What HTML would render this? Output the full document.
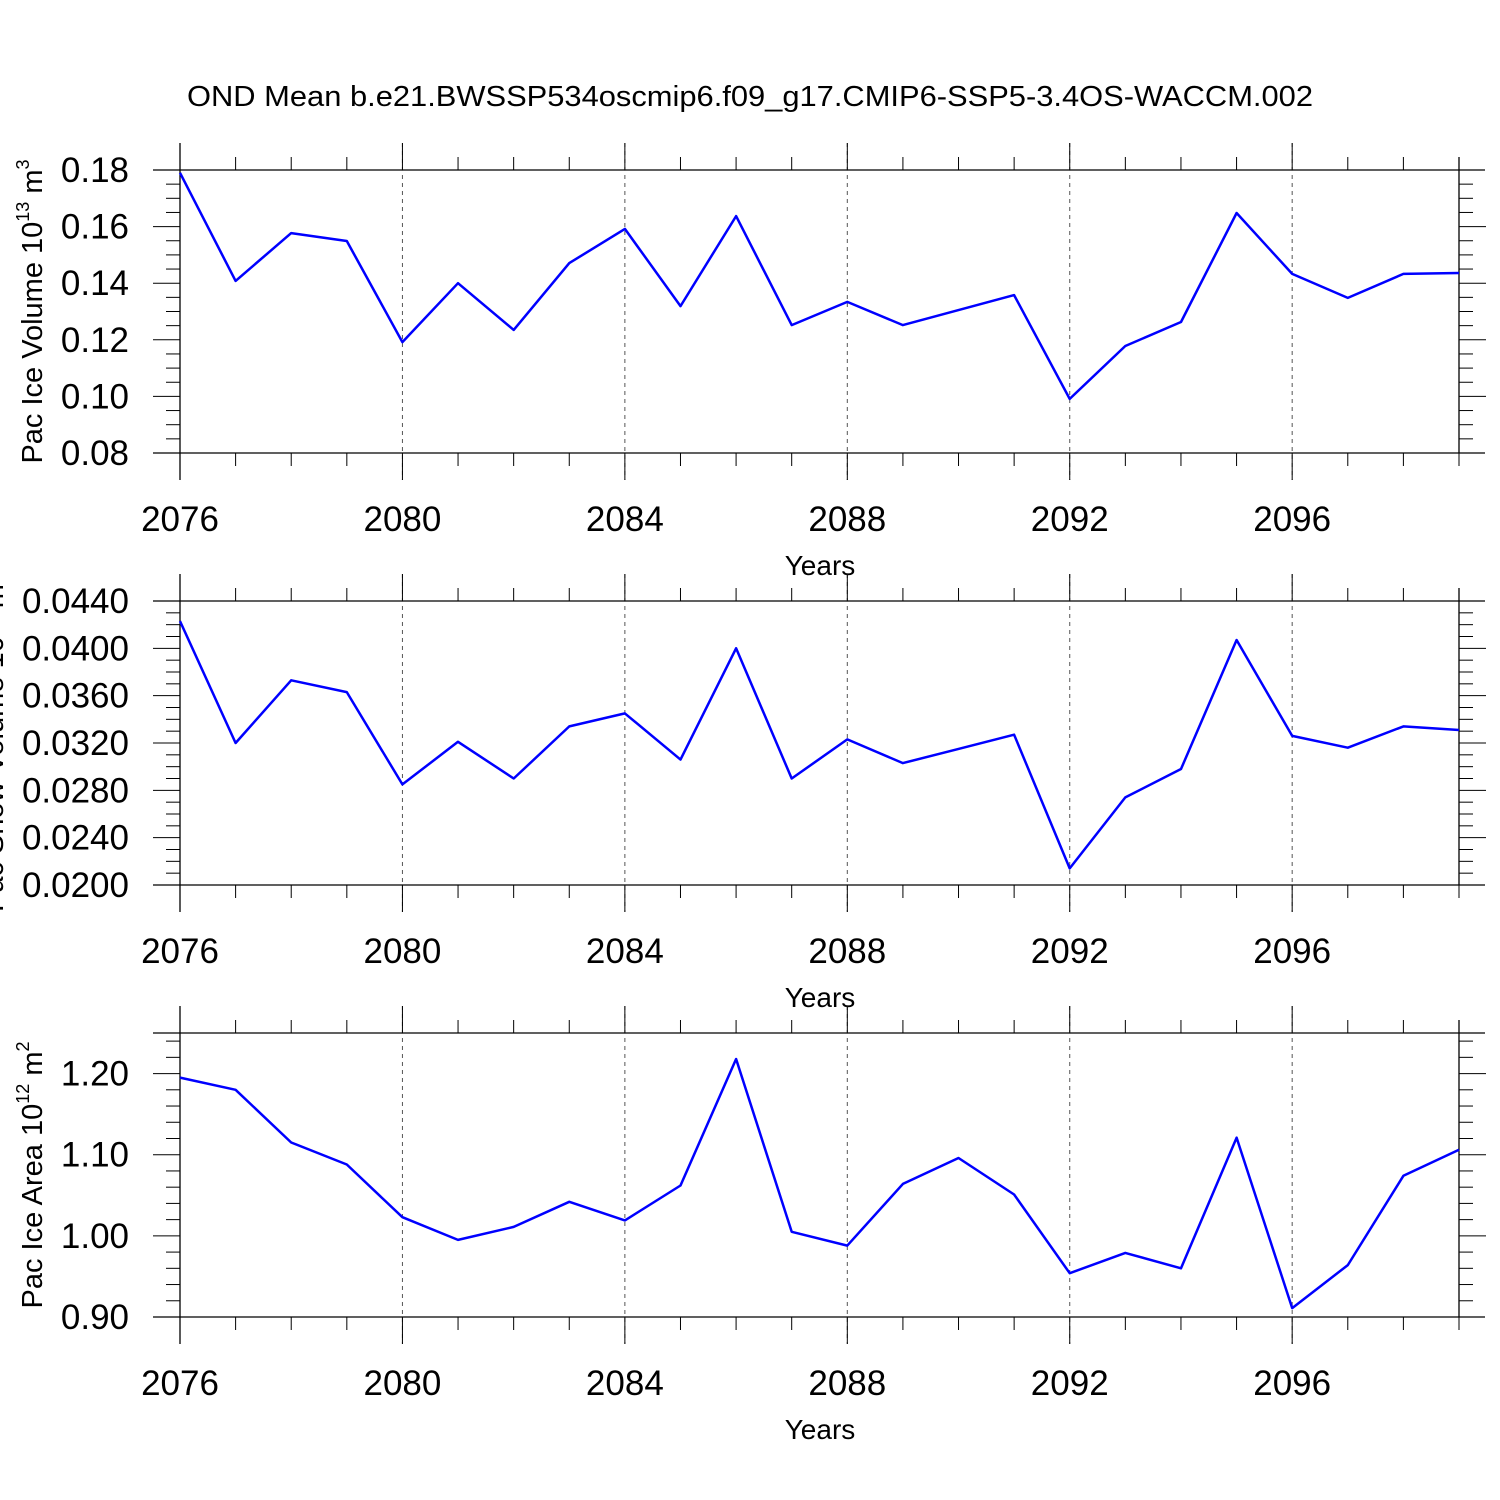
<!DOCTYPE html>
<html><head><meta charset="utf-8"><style>
html,body{margin:0;padding:0;background:#fff;}
svg{display:block;font-family:"Liberation Sans",sans-serif;}
</style></head><body>
<svg id="chart" width="1500" height="1500" viewBox="0 0 1500 1500" xmlns="http://www.w3.org/2000/svg">
<text x="187" y="106" font-size="29" textLength="1126" lengthAdjust="spacingAndGlyphs">OND Mean b.e21.BWSSP534oscmip6.f09_g17.CMIP6-SSP5-3.4OS-WACCM.002</text>
</svg>
<script>
const years = [2076,2077,2078,2079,2080,2081,2082,2083,2084,2085,2086,2087,2088,2089,2090,2091,2092,2093,2094,2095,2096,2097,2098,2099];
const iceVolume = [0.179,0.1408,0.1577,0.1549,0.1192,0.140,0.1235,0.1471,0.1592,0.1319,0.1637,0.1252,0.1334,0.1252,0.1305,0.1358,0.0991,0.1178,0.1263,0.1648,0.1433,0.1348,0.1433,0.1436];
const snowVolume = [0.0423,0.0320,0.0373,0.0363,0.0285,0.0321,0.0290,0.0334,0.0345,0.0306,0.0400,0.0290,0.0323,0.0303,0.0315,0.0327,0.0214,0.0274,0.0298,0.0407,0.0326,0.0316,0.0334,0.0331];
const iceArea = [1.195,1.180,1.115,1.088,1.023,0.995,1.011,1.042,1.019,1.062,1.218,1.005,0.988,1.064,1.096,1.051,0.954,0.979,0.960,1.121,0.911,0.964,1.074,1.106];
const xTickLabels = ["2076","2080","2084","2088","2092","2096"];
const yTicks1 = ["0.08","0.10","0.12","0.14","0.16","0.18"];
const yTicks2 = ["0.0200","0.0240","0.0280","0.0320","0.0360","0.0400","0.0440"];
const yTicks3 = ["0.90","1.00","1.10","1.20"];

const NS = "http://www.w3.org/2000/svg";
const svg = document.getElementById('chart');
function el(tag, attrs, parent){const e=document.createElementNS(NS,tag);for(const k in attrs)e.setAttribute(k,attrs[k]);(parent||svg).appendChild(e);return e;}

const X0=180, X1=1459;
function xs(y){return X0+(y-2076)*(X1-X0)/(2099-2076);}

function panel(opt){
  const g=el('g',{});
  
  
  const top=opt.top, bot=opt.bot;
  const ys=v=>bot-(v-opt.min)*(bot-top)/(opt.max-opt.min);
  el('line',{x1:153,y1:top,x2:1485,y2:top,stroke:'#000','stroke-width':1.3},g);
  el('line',{x1:153,y1:bot,x2:1485,y2:bot,stroke:'#000','stroke-width':1.3},g);
  el('line',{x1:X0,y1:top-27,x2:X0,y2:bot+27,stroke:'#000','stroke-width':1.3},g);
  el('line',{x1:X1,y1:top-13,x2:X1,y2:bot,stroke:'#000','stroke-width':1.3},g);
  years.forEach(y=>{
    const x=xs(y);
    if(y===2076||y===2099) { if(y===2099){el('line',{x1:x,y1:bot,x2:x,y2:bot+13,stroke:'#000','stroke-width':1},g);} return; }
    if((y-2076)%4===0){
      const gl=el('line',{x1:x,y1:top-27,x2:x,y2:bot+27,stroke:'#555','stroke-width':1,'stroke-dasharray':'4,4'},g);
      
      
      el('line',{x1:x,y1:top-27,x2:x,y2:top,stroke:'#000','stroke-width':1},g);
      el('line',{x1:x,y1:bot,x2:x,y2:bot+27,stroke:'#000','stroke-width':1},g);
    } else {
      el('line',{x1:x,y1:top-13,x2:x,y2:top,stroke:'#000','stroke-width':1},g);
      el('line',{x1:x,y1:bot,x2:x,y2:bot+13,stroke:'#000','stroke-width':1},g);
    }
  });
  xTickLabels.forEach(s=>{
    const t=el('text',{x:xs(+s),y:bot+78,'font-size':35,'text-anchor':'middle'},g);
    t.textContent=s;
    
    
  });
  const xt=el('text',{x:820,y:bot+122,'font-size':28,'text-anchor':'middle'},g);
  xt.textContent='Years';
  
  
  const n=Math.round((opt.max-opt.min)/opt.minor);
  for(let i=1;i<n;i++){
    const v=opt.min+i*opt.minor, y=ys(v);
    const major=opt.labels.some(l=>Math.abs(+l-v)<opt.minor/4);
    const L=major?27:14;
    el('line',{x1:X0-L,y1:y,x2:X0,y2:y,stroke:'#000','stroke-width':1},g);
    el('line',{x1:X1,y1:y,x2:X1+L,y2:y,stroke:'#000','stroke-width':1},g);
  }
  opt.labels.forEach(s=>{
    const t=el('text',{x:129,y:ys(+s)+12,'font-size':35,'text-anchor':'end'},g);
    t.textContent=s;
    
    
  });
  const yt=el('text',{x:0,y:0,'font-size':29,'text-anchor':'middle',transform:`translate(${opt.tx},${(top+bot)/2}) rotate(-90)`},g);
  
  
  yt.innerHTML=opt.title+' 10<tspan font-size="18" dy="-13">'+opt.exp+'</tspan><tspan dy="13"> m</tspan><tspan font-size="18" dy="-13">'+opt.sup+'</tspan>';
  const pts=opt.data.map((v,i)=>xs(years[i]).toFixed(1)+','+ys(v).toFixed(1)).join(' ');
  const pl=el('polyline',{points:pts,fill:'none',stroke:'#0000ff','stroke-width':2.5,'stroke-linejoin':'round'},g);
  
  
}
panel({name:'ice-volume-panel',top:170,bot:453,min:0.08,max:0.18,minor:0.005,labels:yTicks1,data:iceVolume,title:'Pac Ice Volume',exp:'13',sup:'3',tx:42});
panel({name:'snow-volume-panel',top:601,bot:885,min:0.02,max:0.044,minor:0.001,labels:yTicks2,data:snowVolume,title:'Pac Snow Volume',exp:'13',sup:'3',tx:3});
panel({name:'ice-area-panel',top:1033,bot:1317,min:0.90,max:1.25,minor:0.02,labels:yTicks3,data:iceArea,title:'Pac Ice Area',exp:'12',sup:'2',tx:42});
</script>
</body></html>
